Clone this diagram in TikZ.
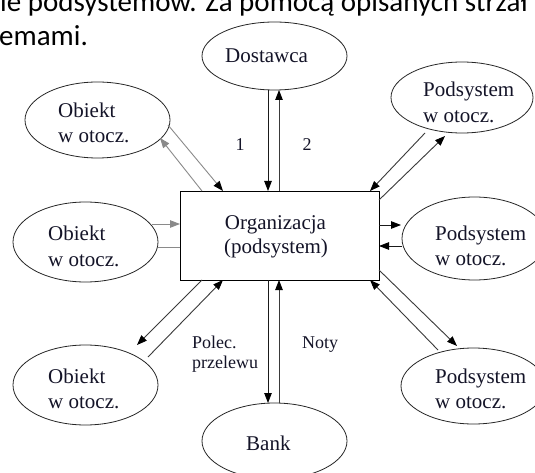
\documentclass[tikz,border=0pt]{standalone}
\usepackage{fontspec}
\setmainfont{Carlito}
\newfontfamily\dfont{Liberation Serif}
\usetikzlibrary{arrows.meta,shapes.geometric}
\definecolor{lnblack}{HTML}{1A1A1A}
\definecolor{lndark}{HTML}{3A3A3A}
\definecolor{lngray}{HTML}{8A8A8A}
\definecolor{txtc}{HTML}{141428}
\begin{document}
\begin{tikzpicture}[x=1pt,y=-1pt,
  ell/.style={draw=black!85, ellipse, line width=0.8pt, inner sep=0pt, outer sep=0pt},
  boxnode/.style={draw=black, rectangle, line width=0.9pt, inner sep=0pt, outer sep=0pt},
  lbl/.style={font=\dfont\fontsize{21}{25}\selectfont, text=txtc, inner sep=0pt, anchor=base west},
  smalllbl/.style={font=\dfont\fontsize{18}{21}\selectfont, text=txtc, inner sep=0pt, anchor=base west},
  toptext/.style={font=\fontsize{29}{35}\selectfont, text=black, inner sep=0pt, anchor=base west},
  tipk/.style={-{Triangle[length=10pt,width=7.5pt,color=black]}},
  tipg/.style={-{Triangle[length=10pt,width=7.5pt]}},
  cblk/.style={line width=0.9pt, draw=lnblack},
  cdrk/.style={line width=0.9pt, draw=lndark},
  cgry/.style={line width=0.9pt, draw=lngray},
]
\useasboundingbox (0,0) rectangle (535,473);
\fill[white] (0,0) rectangle (535,473);
\clip (0,0) rectangle (535,473);

% top text (cut off)
\node[toptext] (t1) at (0,12) {ie podsystemów. Za pomocą opisanych strzał};
\node[toptext] (t2) at (-1,46) {emami.};

% shapes
\node[ell, minimum width=145pt, minimum height=68pt] (dost) at (274.5,56) {};
\node[ell, minimum width=145pt, minimum height=76pt] (ul) at (97.5,120) {};
\node[ell, minimum width=145pt, minimum height=80pt] (ml) at (85.5,242) {};
\node[ell, minimum width=145pt, minimum height=80pt] (ll) at (85.5,385) {};
\node[ell, minimum width=142pt, minimum height=71pt] (ur) at (462,97.5) {};
\node[ell, minimum width=145pt, minimum height=83pt] (mr) at (474.5,238.5) {};
\node[ell, minimum width=145pt, minimum height=76pt] (lr) at (473.5,386) {};
\node[ell, minimum width=145pt, minimum height=76pt] (bank) at (274.5,441) {};
\node[boxnode, minimum width=199pt, minimum height=89pt] (org) at (279.5,235.5) {};

% texts
\node[lbl] (dostT) at (225,63) {Dostawca};
\node[lbl] (ulA) at (58,118) {Obiekt};
\node[lbl] (ulB) at (58,143) {w otocz.};
\node[lbl] (mlA) at (48,240) {Obiekt};
\node[lbl] (mlB) at (48,266) {w otocz.};
\node[lbl] (llA) at (48,383) {Obiekt};
\node[lbl] (llB) at (48,408) {w otocz.};
\node[lbl] (urA) at (423,97) {Podsystem};
\node[lbl] (urB) at (423,123) {w otocz.};
\node[lbl] (mrA) at (435,240) {Podsystem};
\node[lbl] (mrB) at (435,265) {w otocz.};
\node[lbl] (lrA) at (435,383) {Podsystem};
\node[lbl] (lrB) at (435,408) {w otocz.};
\node[lbl] (bankT) at (246,450) {Bank};
\node[lbl, anchor=base] (orgA) at (275.5,229) {Organizacja};
\node[lbl, anchor=base] (orgB) at (276,253) {(podsystem)};
\node[smalllbl] (n1) at (235.5,151) {1};
\node[smalllbl] (n2) at (302.5,151) {2};
\node[smalllbl] (pol1) at (192,348) {Polec.};
\node[smalllbl] (pol2) at (192,368) {przelewu};
\node[smalllbl] (noty) at (302,348) {Noty};

% free ends near ellipses
\coordinate (ulOut) at (168,125);
\coordinate (ulIn) at (160,138);
\coordinate (mlOut) at (152,224);
\coordinate (mlIn) at (158,247);
\coordinate (llIn) at (137,345);
\coordinate (llOut) at (148,357);
\coordinate (urOut) at (425,133);
\coordinate (urIn) at (445,136);
\coordinate (mrIn) at (401,225);
\coordinate (mrOut) at (402,246);
\coordinate (lrOut) at (438,350);
\coordinate (lrIn) at (457,346);

% Dostawca
\draw[cblk, tipk] ([xshift=-6.5pt]dost.south) -- ([xshift=88pt]org.north west);
\draw[cdrk, tipk] ([xshift=99pt]org.north west) -- ([xshift=4.5pt]dost.south);
% Bank
\draw[cblk, tipk] ([xshift=88pt]org.south west) -- ([xshift=-6.5pt]bank.north);
\draw[cdrk, tipk] ([xshift=4.5pt]bank.north) -- ([xshift=99pt]org.south west);
% upper left
\draw[cgry, tipk] (ulOut) -- ([xshift=43pt]org.north west);
\draw[cgry, tipg] ([xshift=22pt]org.north west) -- (ulIn);
% middle left
\draw[cgry, tipg] (mlOut) -- ([yshift=-33pt]org.north west);
\draw[cgry] ([yshift=-56pt]org.north west) -- (mlIn);
% lower left
\draw[cdrk, tipk] ([xshift=22pt]org.south west) -- (llIn);
\draw[cdrk, tipk] (llOut) -- ([xshift=43pt]org.south west);
% upper right
\draw[cdrk, tipk] (urOut) -- ([xshift=-9pt]org.north east);
\draw[cdrk, tipk] ([yshift=-9pt]org.north east) -- (urIn);
% middle right
\draw[cblk, tipk] ([yshift=-34pt]org.north east) -- (mrIn);
\draw[cblk, tipk] (mrOut) -- ([yshift=-55pt]org.north east);
% lower right
\draw[cdrk, tipk] (lrOut) -- ([xshift=-9pt]org.south east);
\draw[cdrk, tipk] ([yshift=10pt]org.south east) -- (lrIn);
\end{tikzpicture}
\end{document}
